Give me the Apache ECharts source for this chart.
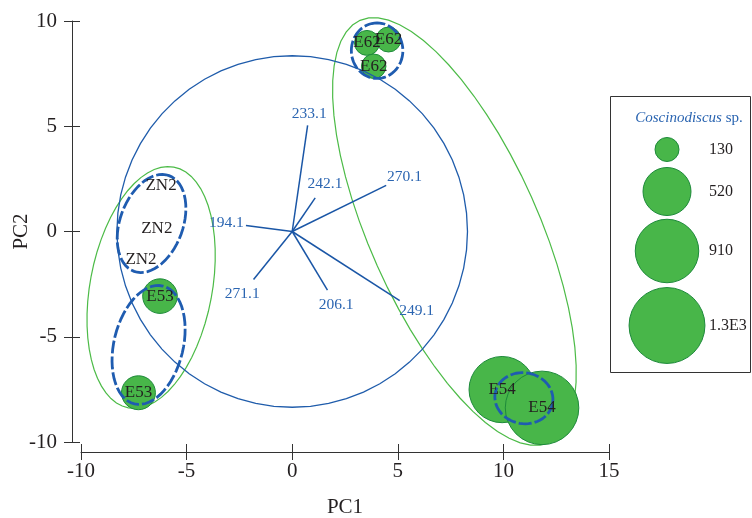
<!DOCTYPE html>
<html><head><meta charset="utf-8">
<script src="https://cdn.jsdelivr.net/npm/echarts@6/dist/echarts.min.js"></script>
<style>html,body{margin:0;padding:0;background:#fff}#c{width:752px;height:518px}</style>
</head><body><div id="c"></div><script>
// ---- sites (PC1, PC2) and Coscinodiscus sp. abundance ----
const siteNames = ['E62','E62','E62','ZN2','ZN2','ZN2','E53','E53','E54','E54'];
const siteX = [3.54, 4.56, 3.86, -6.21, -6.41, -7.16, -6.26, -7.28, 9.94, 11.83];
const siteY = [8.96, 9.12, 7.85, 2.19, 0.13, -1.33, -3.07, -7.66, -7.51, -8.38];
const coscValues = [140, 140, 135, 0, 0, 0, 270, 260, 990, 1220];

// ---- variable vectors ----
const varNames = ['233.1','242.1','270.1','194.1','271.1','206.1','249.1'];
const varX = [0.73, 1.09, 4.45, -2.19, -1.83, 1.67, 5.09];
const varY = [5.04, 1.60, 2.19, 0.29, -2.28, -2.79, -3.28];

// ---- cluster ellipses: [cx, cy, semi-axis a, semi-axis b, angle of a (deg)] ----
const greenHulls = [[-6.68, -2.66, 5.82, 2.89, 79.35], [7.68, 0.0, 10.98, 4.0, 114]];
const blueDashedHulls = [[-6.66, 0.38, 2.42, 1.49, 70], [-6.80, -5.39, 2.88, 1.64, 76.5], [4.02, 8.59, 1.32, 1.22, 90], [10.97, -7.92, 1.38, 1.21, -10]];
const equilibriumCircle = [[0, 0, 8.3, 8.35, 0]];

// ---- axes / legend ----
const xTicks = [-10, -5, 0, 5, 10, 15];
const yTicks = [-10, -5, 0, 5, 10];
const legendValues = [130, 520, 910, 1300];
const legendLabels = ['130', '520', '910', '1.3E3'];

const FONT = 'Liberation Serif';
const radiusOf = v => 12 / Math.sqrt(130) * Math.sqrt(v);

function ellipseRender(stroke, lw, dash) {
  return function (params, api) {
    const cx = api.value(0), cy = api.value(1), a = api.value(2), b = api.value(3);
    const ang = api.value(4) * Math.PI / 180;
    const pts = [];
    const N = 60;
    for (let i = 0; i < N; i++) {
      const t = i / N * 2 * Math.PI;
      const lx = a * Math.cos(t), ly = b * Math.sin(t);
      pts.push(api.coord([cx + lx * Math.cos(ang) - ly * Math.sin(ang), cy + lx * Math.sin(ang) + ly * Math.cos(ang)]));
    }
    return { type: 'polygon', shape: { points: pts }, style: { fill: 'none', stroke: stroke, lineWidth: lw, lineDash: dash || null } };
  };
}

const chart = echarts.init(document.getElementById('c'), null, { renderer: 'canvas' });

const axisCommon = {
  type: 'value', splitLine: { show: false },
  axisLine: { show: true, onZero: false, lineStyle: { color: '#333', width: 1 } },
  axisTick: { show: true, length: 8, lineStyle: { color: '#333' } },
};

const legendGraphics = [
  { type: 'rect', shape: { x: 610.5, y: 96.5, width: 140, height: 276 }, style: { fill: '#fff', stroke: '#333', lineWidth: 1 }, z: 10 },
  { type: 'text', x: 689, y: 118, z: 11, style: { text: '{i|Coscinodiscus} sp.', fill: '#2b65b1', font: '15px ' + FONT, align: 'center', verticalAlign: 'middle', rich: { i: { fontStyle: 'italic', fontFamily: FONT, fontSize: 15, fill: '#2b65b1' } } } }
];
const legendY = [149.5, 191.5, 251, 325.5];
legendValues.forEach((v, i) => {
  legendGraphics.push({ type: 'circle', z: 11, shape: { cx: 667, cy: legendY[i], r: radiusOf(v) }, style: { fill: '#48b649', stroke: '#1d8a3a', lineWidth: 1 } });
  legendGraphics.push({ type: 'text', z: 11, x: 709, y: legendY[i], style: { text: legendLabels[i], fill: '#231f20', font: '16px ' + FONT, align: 'left', verticalAlign: 'middle' } });
});

const innerTicks = { axisLine: { show: false, onZero: false }, axisLabel: { show: false }, axisTick: { show: true, inside: true, length: 8, lineStyle: { color: '#333' } } };

chart.setOption({
  animation: false,
  backgroundColor: '#fff',
  grid: { left: 81, right: 143, top: 21, bottom: 76, containLabel: false, outerBoundsMode: 'none' },
  xAxis: [
    Object.assign({}, axisCommon, {
      min: xTicks[0], max: xTicks[xTicks.length - 1], interval: 5, position: 'bottom', offset: 10,
      axisLabel: { fontFamily: FONT, fontSize: 21, color: '#231f20', margin: 9 },
      name: 'PC1', nameLocation: 'middle', nameGap: 45, nameMoveOverlap: false, nameTextStyle: { fontFamily: FONT, fontSize: 21, color: '#231f20' }
    }),
    Object.assign({}, axisCommon, {
      min: xTicks[0], max: xTicks[xTicks.length - 1], interval: 5, position: 'bottom', offset: 10
    }, innerTicks)
  ],
  yAxis: [
    Object.assign({}, axisCommon, {
      min: yTicks[0], max: yTicks[yTicks.length - 1], interval: 5, position: 'left', offset: 9,
      axisLabel: { fontFamily: FONT, fontSize: 21, color: '#231f20', margin: 15 },
      name: 'PC2', nameLocation: 'middle', nameGap: 40, nameRotate: 90, nameMoveOverlap: false, nameTextStyle: { fontFamily: FONT, fontSize: 21, color: '#231f20' }
    }),
    Object.assign({}, axisCommon, {
      min: yTicks[0], max: yTicks[yTicks.length - 1], interval: 5, position: 'left', offset: 9
    }, innerTicks)
  ],
  graphic: legendGraphics,
  series: [
    { type: 'custom', z: 1, xAxisIndex: 0, yAxisIndex: 0, data: greenHulls, encode: { x: 0, y: 1 }, renderItem: ellipseRender('#4cbb47', 1.2) },
    { type: 'scatter', z: 2, xAxisIndex: 0, yAxisIndex: 0,
      data: siteX.map((x, i) => [x, siteY[i], coscValues[i]]).filter(d => d[2] > 0),
      symbol: 'circle', symbolSize: v => 2 * radiusOf(v[2]),
      itemStyle: { color: '#48b649', borderColor: '#1d8a3a', borderWidth: 1, opacity: 1 } },
    { type: 'custom', z: 3, xAxisIndex: 0, yAxisIndex: 0, data: blueDashedHulls, encode: { x: 0, y: 1 }, renderItem: ellipseRender('#1f5cb0', 2.8, [13, 3]) },
    { type: 'custom', z: 3, xAxisIndex: 0, yAxisIndex: 0, data: equilibriumCircle, encode: { x: 0, y: 1 }, renderItem: ellipseRender('#1f5cab', 1.3) },
    { type: 'custom', z: 4, xAxisIndex: 0, yAxisIndex: 0,
      data: varX.map((x, i) => [x, varY[i], i]), encode: { x: 0, y: 1 },
      renderItem: function (params, api) {
        const p0 = api.coord([0, 0]);
        const p1 = api.coord([api.value(0), api.value(1)]);
        const dx = p1[0] - p0[0], dy = p1[1] - p0[1];
        const L = Math.sqrt(dx * dx + dy * dy);
        const ux = dx / L, uy = dy / L;
        const d = 2 + Math.abs(ux) * 17 + Math.abs(uy) * 7;
        return { type: 'group', children: [
          { type: 'line', shape: { x1: p0[0], y1: p0[1], x2: p1[0], y2: p1[1] }, style: { stroke: '#1a56a6', lineWidth: 1.5 } },
          { type: 'text', x: p1[0] + ux * d, y: p1[1] + uy * d, style: { text: varNames[api.value(2)], fill: '#2b65b1', font: '15.5px ' + FONT, align: 'center', verticalAlign: 'middle' } }
        ] };
      } },
    { type: 'custom', z: 5, xAxisIndex: 0, yAxisIndex: 0,
      data: siteX.map((x, i) => [x, siteY[i], i]), encode: { x: 0, y: 1 },
      renderItem: function (params, api) {
        const p = api.coord([api.value(0), api.value(1)]);
        return { type: 'text', x: p[0], y: p[1], style: { text: siteNames[api.value(2)], fill: '#231f20', font: '17px ' + FONT, align: 'center', verticalAlign: 'middle' } };
      } }
  ]
});
</script></body></html>
